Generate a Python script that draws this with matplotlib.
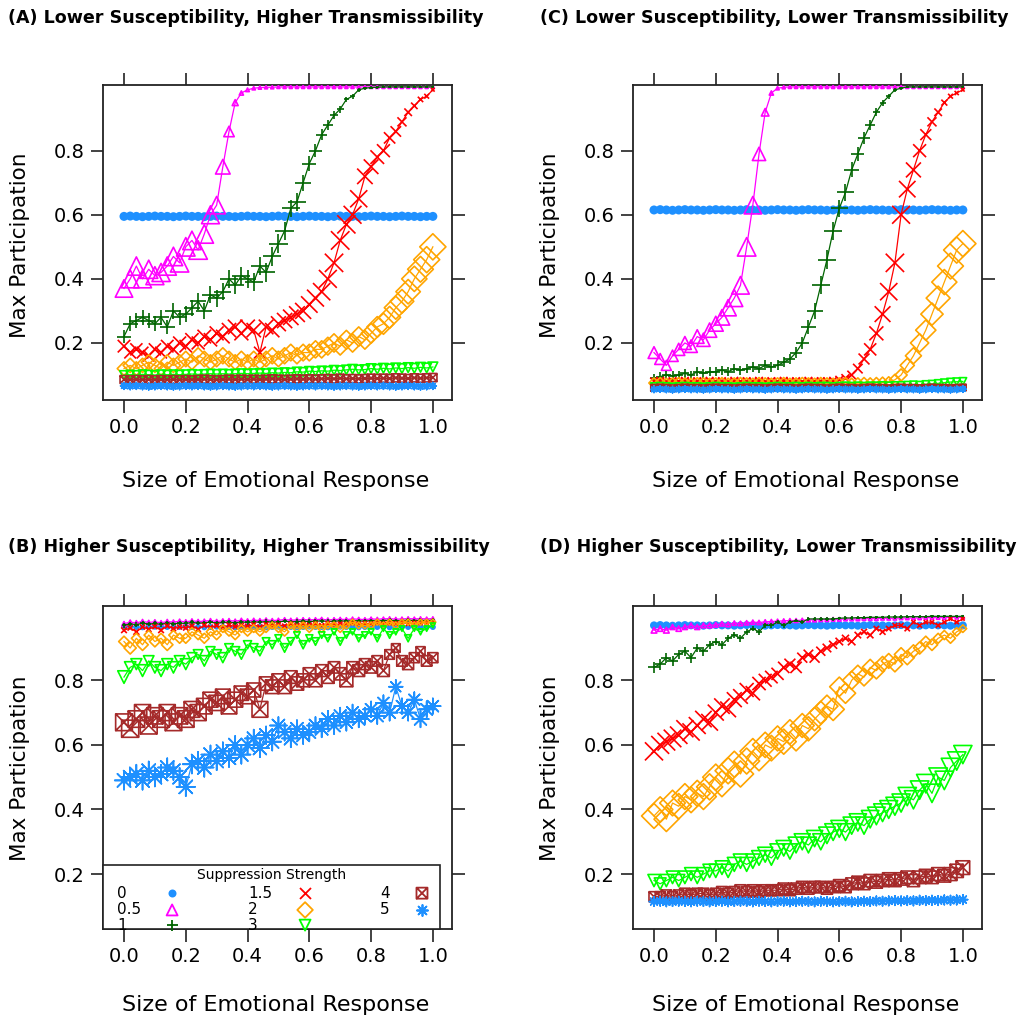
import numpy as np
import matplotlib
matplotlib.use('Agg')
import matplotlib.pyplot as plt
from matplotlib.path import Path
from matplotlib.patches import Rectangle

# ---------------- data ----------------
x = np.round(np.linspace(0, 1, 51), 2)
strengths = ['0', '0.5', '1', '1.5', '2', '3', '4', '5']
colors = ['#1E90FF', '#FF00FF', '#006400', '#FF0000', '#FFA500', '#00FF00', '#A52A2A', '#1E90FF']

# Panel A: Lower Susceptibility, Higher Transmissibility
A_s0 = [0.595, 0.596, 0.595, 0.594, 0.595, 0.596, 0.595, 0.595, 0.594, 0.595,
        0.596, 0.595, 0.595, 0.594, 0.595, 0.596, 0.595, 0.595, 0.594, 0.595,
        0.596, 0.595, 0.595, 0.594, 0.595, 0.596, 0.595, 0.595, 0.594, 0.595,
        0.596, 0.595, 0.595, 0.594, 0.595, 0.596, 0.595, 0.595, 0.594, 0.595,
        0.596, 0.595, 0.595, 0.594, 0.595, 0.596, 0.595, 0.595, 0.594, 0.595,
        0.595]
A_s05 = [0.37, 0.40, 0.44, 0.40, 0.43, 0.41, 0.42, 0.44, 0.47, 0.45,
         0.50, 0.52, 0.49, 0.54, 0.60, 0.63, 0.75, 0.86, 0.95, 0.98,
         0.99, 0.995, 0.997, 0.998, 0.998, 0.999, 0.999, 0.999, 0.999, 0.999,
         0.999, 0.999, 0.999, 0.999, 0.999, 0.999, 0.999, 0.999, 0.999, 0.999,
         0.999, 0.999, 0.999, 0.999, 0.999, 0.999, 0.999, 0.999, 0.999, 0.999,
         0.999]
A_s1 = [0.22, 0.26, 0.27, 0.28, 0.27, 0.26, 0.28, 0.25, 0.30, 0.28,
        0.29, 0.31, 0.33, 0.30, 0.35, 0.34, 0.36, 0.40, 0.38, 0.41,
        0.40, 0.39, 0.44, 0.42, 0.47, 0.51, 0.55, 0.62, 0.64, 0.70,
        0.76, 0.80, 0.85, 0.88, 0.91, 0.93, 0.96, 0.97, 0.99, 0.995,
        0.997, 0.998, 0.999, 0.999, 0.999, 0.999, 0.999, 0.999, 0.999, 0.999,
        0.999]
A_s15 = [0.19, 0.17, 0.18, 0.17, 0.16, 0.18, 0.17, 0.19, 0.18, 0.20,
         0.19, 0.21, 0.20, 0.22, 0.21, 0.23, 0.22, 0.24, 0.25, 0.23,
         0.25, 0.24, 0.17, 0.25, 0.24, 0.26, 0.27, 0.28, 0.29, 0.30,
         0.32, 0.34, 0.36, 0.40, 0.45, 0.52, 0.57, 0.60, 0.65, 0.72,
         0.75, 0.78, 0.80, 0.84, 0.86, 0.89, 0.92, 0.94, 0.96, 0.97,
         0.99]
A_s2 = [0.12, 0.13, 0.12, 0.13, 0.14, 0.13, 0.12, 0.14, 0.13, 0.14,
        0.15, 0.14, 0.16, 0.15, 0.14, 0.15, 0.16, 0.15, 0.14, 0.15,
        0.14, 0.15, 0.14, 0.15, 0.16, 0.15, 0.16, 0.17, 0.16, 0.17,
        0.17, 0.18, 0.18, 0.19, 0.20, 0.19, 0.21, 0.20, 0.22, 0.21,
        0.23, 0.25, 0.26, 0.28, 0.31, 0.33, 0.36, 0.40, 0.43, 0.46,
        0.50]
A_s3 = [0.100, 0.101, 0.100, 0.102, 0.101, 0.100, 0.102, 0.101, 0.102, 0.101,
        0.102, 0.103, 0.102, 0.103, 0.104, 0.103, 0.104, 0.103, 0.104, 0.105,
        0.104, 0.105, 0.106, 0.105, 0.107, 0.106, 0.108, 0.107, 0.110, 0.109,
        0.112, 0.111, 0.113, 0.112, 0.115, 0.114, 0.116, 0.118, 0.116, 0.117,
        0.120, 0.118, 0.121, 0.119, 0.122, 0.120, 0.123, 0.121, 0.124, 0.122,
        0.125]
A_s4 = [0.086, 0.085, 0.086, 0.085, 0.086, 0.085, 0.086, 0.085, 0.086, 0.085,
        0.086, 0.085, 0.086, 0.087, 0.086, 0.085, 0.086, 0.087, 0.086, 0.087,
        0.086, 0.087, 0.086, 0.087, 0.088, 0.087, 0.086, 0.087, 0.088, 0.087,
        0.088, 0.087, 0.088, 0.089, 0.088, 0.090, 0.088, 0.089, 0.088, 0.089,
        0.090, 0.089, 0.090, 0.089, 0.091, 0.090, 0.089, 0.091, 0.090, 0.091,
        0.092]
A_s5 = [0.066, 0.065, 0.066, 0.065, 0.064, 0.065, 0.066, 0.065, 0.064, 0.065,
        0.066, 0.065, 0.066, 0.065, 0.064, 0.065, 0.066, 0.065, 0.064, 0.065,
        0.066, 0.065, 0.066, 0.065, 0.064, 0.065, 0.066, 0.065, 0.064, 0.065,
        0.066, 0.065, 0.066, 0.065, 0.064, 0.065, 0.066, 0.065, 0.064, 0.065,
        0.066, 0.065, 0.066, 0.065, 0.064, 0.065, 0.066, 0.065, 0.064, 0.065,
        0.066]

# Panel B: Higher Susceptibility, Higher Transmissibility
B_s0 = [0.965, 0.966, 0.965, 0.964, 0.965, 0.966, 0.965, 0.965, 0.964, 0.965,
        0.966, 0.965, 0.965, 0.964, 0.965, 0.966, 0.965, 0.965, 0.964, 0.965,
        0.966, 0.965, 0.965, 0.964, 0.965, 0.966, 0.965, 0.965, 0.964, 0.965,
        0.966, 0.965, 0.965, 0.964, 0.965, 0.966, 0.965, 0.965, 0.964, 0.965,
        0.966, 0.965, 0.965, 0.964, 0.965, 0.966, 0.965, 0.965, 0.964, 0.965,
        0.965]
B_s05 = [0.975, 0.980, 0.978, 0.982, 0.979, 0.981, 0.978, 0.982, 0.980, 0.983,
         0.981, 0.984, 0.982, 0.983, 0.985, 0.982, 0.984, 0.985, 0.983, 0.986,
         0.984, 0.986, 0.985, 0.987, 0.985, 0.986, 0.988, 0.986, 0.987, 0.988,
         0.987, 0.988, 0.989, 0.987, 0.988, 0.989, 0.988, 0.990, 0.989, 0.988,
         0.990, 0.989, 0.990, 0.991, 0.989, 0.990, 0.991, 0.990, 0.991, 0.990,
         0.991]
B_s1 = [0.970, 0.975, 0.972, 0.977, 0.974, 0.976, 0.973, 0.978, 0.975, 0.977,
        0.976, 0.979, 0.977, 0.978, 0.980, 0.977, 0.979, 0.980, 0.978, 0.981,
        0.979, 0.981, 0.980, 0.982, 0.980, 0.981, 0.983, 0.981, 0.982, 0.983,
        0.982, 0.983, 0.984, 0.982, 0.983, 0.984, 0.983, 0.985, 0.984, 0.983,
        0.985, 0.984, 0.985, 0.986, 0.984, 0.985, 0.986, 0.985, 0.986, 0.985,
        0.986]
B_s15 = [0.955, 0.962, 0.950, 0.965, 0.958, 0.966, 0.955, 0.968, 0.960, 0.965,
         0.962, 0.968, 0.958, 0.970, 0.964, 0.969, 0.962, 0.971, 0.966, 0.970,
         0.967, 0.972, 0.965, 0.973, 0.969, 0.972, 0.968, 0.974, 0.970, 0.973,
         0.971, 0.975, 0.970, 0.976, 0.972, 0.975, 0.973, 0.977, 0.974, 0.976,
         0.975, 0.978, 0.974, 0.977, 0.976, 0.979, 0.975, 0.978, 0.977, 0.979,
         0.978]
B_s2 = [0.92, 0.90, 0.93, 0.91, 0.94, 0.92, 0.93, 0.91, 0.94, 0.93,
        0.93, 0.95, 0.94, 0.93, 0.95, 0.94, 0.96, 0.95, 0.94, 0.96,
        0.95, 0.96, 0.95, 0.96, 0.97, 0.96, 0.95, 0.97, 0.96, 0.97,
        0.96, 0.97, 0.96, 0.97, 0.97, 0.96, 0.97, 0.98, 0.97, 0.97,
        0.97, 0.98, 0.97, 0.98, 0.97, 0.98, 0.98, 0.97, 0.98, 0.98,
        0.98]
B_s3 = [0.81, 0.84, 0.85, 0.83, 0.86, 0.84, 0.83, 0.85, 0.84, 0.86,
        0.85, 0.87, 0.88, 0.86, 0.89, 0.88, 0.87, 0.90, 0.89, 0.88,
        0.91, 0.90, 0.89, 0.92, 0.91, 0.93, 0.90, 0.92, 0.94, 0.91,
        0.93, 0.92, 0.94, 0.93, 0.95, 0.92, 0.94, 0.95, 0.93, 0.94,
        0.95, 0.93, 0.96, 0.94, 0.95, 0.96, 0.93, 0.96, 0.95, 0.96,
        0.97]
B_s4 = [0.67, 0.65, 0.68, 0.70, 0.66, 0.69, 0.68, 0.70, 0.67, 0.69,
        0.68, 0.71, 0.70, 0.72, 0.74, 0.73, 0.75, 0.72, 0.74, 0.76,
        0.75, 0.77, 0.71, 0.79, 0.78, 0.80, 0.78, 0.81, 0.79, 0.80,
        0.82, 0.80, 0.83, 0.81, 0.84, 0.82, 0.80, 0.84, 0.83, 0.85,
        0.84, 0.86, 0.83, 0.88, 0.90, 0.86, 0.85, 0.87, 0.89, 0.86,
        0.87]
B_s5 = [0.49, 0.50, 0.51, 0.49, 0.52, 0.50, 0.51, 0.53, 0.52, 0.50,
        0.47, 0.54, 0.55, 0.53, 0.57, 0.55, 0.58, 0.56, 0.60, 0.57,
        0.60, 0.62, 0.59, 0.63, 0.61, 0.66, 0.64, 0.62, 0.65, 0.63,
        0.64, 0.66, 0.65, 0.68, 0.66, 0.69, 0.67, 0.70, 0.68, 0.69,
        0.71, 0.69, 0.73, 0.70, 0.78, 0.72, 0.70, 0.74, 0.68, 0.71,
        0.72]

# Panel C: Lower Susceptibility, Lower Transmissibility
C_s0 = [0.615, 0.616, 0.615, 0.614, 0.615, 0.616, 0.615, 0.615, 0.614, 0.615,
        0.616, 0.615, 0.615, 0.614, 0.615, 0.616, 0.615, 0.615, 0.614, 0.615,
        0.616, 0.615, 0.615, 0.614, 0.615, 0.616, 0.615, 0.615, 0.614, 0.615,
        0.616, 0.615, 0.615, 0.614, 0.615, 0.616, 0.615, 0.615, 0.614, 0.615,
        0.616, 0.615, 0.615, 0.614, 0.615, 0.616, 0.615, 0.615, 0.614, 0.615,
        0.615]
C_s05 = [0.17, 0.15, 0.13, 0.16, 0.18, 0.20, 0.19, 0.22, 0.21, 0.24,
         0.26, 0.28, 0.31, 0.34, 0.38, 0.50, 0.63, 0.79, 0.92, 0.98,
         0.995, 0.998, 0.999, 0.999, 0.999, 0.999, 0.999, 0.999, 0.999, 0.999,
         0.999, 0.999, 0.999, 0.999, 0.999, 0.999, 0.999, 0.999, 0.999, 0.999,
         0.999, 0.999, 0.999, 0.999, 0.999, 0.999, 0.999, 0.999, 0.999, 0.999,
         0.999]
C_s1 = [0.090, 0.095, 0.100, 0.098, 0.100, 0.105, 0.100, 0.110, 0.105, 0.110,
        0.110, 0.115, 0.110, 0.120, 0.115, 0.120, 0.125, 0.120, 0.130, 0.125,
        0.130, 0.140, 0.150, 0.170, 0.200, 0.250, 0.300, 0.380, 0.460, 0.550,
        0.620, 0.670, 0.740, 0.790, 0.840, 0.880, 0.920, 0.950, 0.970, 0.990,
        0.995, 0.999, 0.999, 0.999, 0.999, 0.999, 0.999, 0.999, 0.999, 0.999,
        0.999]
C_s15 = [0.080, 0.082, 0.079, 0.081, 0.080, 0.082, 0.079, 0.081, 0.080, 0.082,
         0.080, 0.081, 0.079, 0.082, 0.080, 0.081, 0.080, 0.082, 0.079, 0.081,
         0.080, 0.082, 0.080, 0.081, 0.079, 0.082, 0.080, 0.081, 0.080, 0.082,
         0.085, 0.090, 0.100, 0.120, 0.150, 0.180, 0.230, 0.290, 0.360, 0.450,
         0.600, 0.680, 0.740, 0.800, 0.850, 0.890, 0.920, 0.950, 0.970, 0.980,
         0.990]
C_s2 = [0.075, 0.076, 0.074, 0.075, 0.076, 0.075, 0.074, 0.076, 0.075, 0.074,
        0.075, 0.076, 0.074, 0.075, 0.076, 0.075, 0.074, 0.076, 0.075, 0.074,
        0.075, 0.076, 0.074, 0.075, 0.076, 0.075, 0.074, 0.076, 0.075, 0.074,
        0.075, 0.076, 0.074, 0.075, 0.076, 0.075, 0.076, 0.077, 0.078, 0.085,
        0.100, 0.130, 0.160, 0.200, 0.240, 0.290, 0.340, 0.390, 0.440, 0.490,
        0.510]
C_s3 = [0.065, 0.066, 0.065, 0.064, 0.065, 0.066, 0.065, 0.065, 0.064, 0.065,
        0.066, 0.065, 0.065, 0.064, 0.065, 0.066, 0.065, 0.065, 0.064, 0.065,
        0.066, 0.065, 0.065, 0.066, 0.065, 0.066, 0.065, 0.066, 0.066, 0.065,
        0.066, 0.067, 0.066, 0.067, 0.066, 0.067, 0.067, 0.068, 0.067, 0.068,
        0.068, 0.069, 0.070, 0.069, 0.071, 0.072, 0.074, 0.076, 0.078, 0.079,
        0.080]
C_s4 = [0.060, 0.061, 0.060, 0.059, 0.060, 0.061, 0.060, 0.060, 0.059, 0.060,
        0.061, 0.060, 0.060, 0.059, 0.060, 0.061, 0.060, 0.060, 0.059, 0.060,
        0.061, 0.060, 0.060, 0.059, 0.060, 0.061, 0.060, 0.060, 0.059, 0.060,
        0.061, 0.060, 0.060, 0.059, 0.060, 0.061, 0.060, 0.060, 0.059, 0.060,
        0.061, 0.060, 0.060, 0.059, 0.060, 0.061, 0.060, 0.060, 0.059, 0.060,
        0.061]
C_s5 = [0.055, 0.056, 0.055, 0.054, 0.055, 0.056, 0.055, 0.055, 0.054, 0.055,
        0.056, 0.055, 0.055, 0.054, 0.055, 0.056, 0.055, 0.055, 0.054, 0.055,
        0.056, 0.055, 0.055, 0.054, 0.055, 0.056, 0.055, 0.055, 0.054, 0.055,
        0.056, 0.055, 0.055, 0.054, 0.055, 0.056, 0.055, 0.055, 0.054, 0.055,
        0.056, 0.055, 0.055, 0.054, 0.055, 0.056, 0.055, 0.055, 0.054, 0.055,
        0.056]

# Panel D: Higher Susceptibility, Lower Transmissibility
D_s0 = [0.970, 0.971, 0.970, 0.969, 0.970, 0.971, 0.970, 0.970, 0.969, 0.970,
        0.971, 0.970, 0.970, 0.969, 0.970, 0.971, 0.970, 0.970, 0.969, 0.970,
        0.971, 0.970, 0.970, 0.969, 0.970, 0.971, 0.970, 0.970, 0.969, 0.970,
        0.971, 0.970, 0.970, 0.969, 0.970, 0.971, 0.970, 0.970, 0.969, 0.970,
        0.971, 0.970, 0.970, 0.969, 0.970, 0.971, 0.970, 0.970, 0.969, 0.970,
        0.970]
D_s05 = [0.955, 0.960, 0.955, 0.965, 0.960, 0.965, 0.970, 0.965, 0.970, 0.970,
         0.972, 0.975, 0.973, 0.977, 0.976, 0.978, 0.980, 0.979, 0.981, 0.982,
         0.983, 0.984, 0.985, 0.985, 0.986, 0.987, 0.987, 0.988, 0.988, 0.989,
         0.989, 0.990, 0.990, 0.990, 0.991, 0.991, 0.991, 0.992, 0.992, 0.992,
         0.993, 0.993, 0.993, 0.993, 0.994, 0.994, 0.994, 0.994, 0.995, 0.995,
         0.995]
D_s1 = [0.84, 0.85, 0.87, 0.86, 0.88, 0.89, 0.87, 0.90, 0.89, 0.91,
        0.92, 0.91, 0.93, 0.94, 0.93, 0.95, 0.96, 0.95, 0.97, 0.97,
        0.98, 0.97, 0.98, 0.985, 0.98, 0.99, 0.99, 0.99, 0.99, 0.99,
        0.992, 0.993, 0.993, 0.994, 0.994, 0.995, 0.995, 0.995, 0.996, 0.996,
        0.996, 0.997, 0.997, 0.997, 0.997, 0.998, 0.998, 0.998, 0.998, 0.998,
        0.998]
D_s15 = [0.58, 0.60, 0.61, 0.62, 0.63, 0.65, 0.64, 0.66, 0.68, 0.67,
         0.70, 0.72, 0.71, 0.74, 0.75, 0.77, 0.76, 0.79, 0.80, 0.81,
         0.82, 0.84, 0.85, 0.84, 0.87, 0.88, 0.87, 0.89, 0.90, 0.91,
         0.92, 0.93, 0.92, 0.94, 0.95, 0.94, 0.96, 0.95, 0.96, 0.97,
         0.97, 0.96, 0.98, 0.97, 0.98, 0.98, 0.97, 0.98, 0.99, 0.98,
         0.99]
D_s2 = [0.38, 0.40, 0.37, 0.42, 0.41, 0.44, 0.43, 0.45, 0.44, 0.47,
        0.50, 0.48, 0.52, 0.54, 0.51, 0.55, 0.58, 0.56, 0.60, 0.59,
        0.62, 0.61, 0.64, 0.62, 0.66, 0.65, 0.68, 0.70, 0.72, 0.71,
        0.78, 0.76, 0.80, 0.82, 0.81, 0.84, 0.83, 0.85, 0.86, 0.85,
        0.88, 0.87, 0.89, 0.90, 0.92, 0.91, 0.93, 0.94, 0.93, 0.95,
        0.96]
D_s3 = [0.18, 0.17, 0.18, 0.19, 0.18, 0.19, 0.20, 0.19, 0.20, 0.21,
        0.21, 0.22, 0.21, 0.23, 0.24, 0.23, 0.24, 0.25, 0.26, 0.25,
        0.27, 0.28, 0.27, 0.29, 0.30, 0.29, 0.31, 0.30, 0.32, 0.33,
        0.34, 0.33, 0.35, 0.36, 0.35, 0.37, 0.38, 0.39, 0.40, 0.41,
        0.42, 0.44, 0.43, 0.46, 0.48, 0.45, 0.50, 0.49, 0.53, 0.55,
        0.57]
D_s4 = [0.130, 0.130, 0.135, 0.130, 0.135, 0.140, 0.135, 0.140, 0.140, 0.135,
        0.140, 0.145, 0.140, 0.145, 0.150, 0.145, 0.150, 0.145, 0.150, 0.150,
        0.150, 0.155, 0.150, 0.155, 0.160, 0.155, 0.160, 0.160, 0.155, 0.160,
        0.165, 0.160, 0.170, 0.175, 0.170, 0.180, 0.175, 0.180, 0.185, 0.180,
        0.185, 0.190, 0.180, 0.190, 0.195, 0.190, 0.200, 0.195, 0.200, 0.210,
        0.220]
D_s5 = [0.115, 0.116, 0.114, 0.115, 0.116, 0.115, 0.114, 0.116, 0.115, 0.114,
        0.115, 0.116, 0.114, 0.115, 0.116, 0.115, 0.114, 0.116, 0.115, 0.114,
        0.115, 0.116, 0.114, 0.115, 0.116, 0.115, 0.114, 0.116, 0.115, 0.114,
        0.115, 0.116, 0.114, 0.115, 0.116, 0.115, 0.117, 0.116, 0.117, 0.118,
        0.117, 0.118, 0.117, 0.119, 0.118, 0.119, 0.118, 0.120, 0.119, 0.120,
        0.121]

titles = ['(A) Lower Susceptibility, Higher Transmissibility',
          '(B) Higher Susceptibility, Higher Transmissibility',
          '(C) Lower Susceptibility, Lower Transmissibility',
          '(D) Higher Susceptibility, Lower Transmissibility']
xticks = [0.0, 0.2, 0.4, 0.6, 0.8, 1.0]
yticks = [0.2, 0.4, 0.6, 0.8]
xlabel = 'Size of Emotional Response'
ylabel = 'Max Participation'

# ---------------- styling ----------------
W, H = 1017, 1027
fig = plt.figure(figsize=(W / 100, H / 100), dpi=100)
plt.rcParams['font.family'] = ['DejaVu Sans']

boxtimes = Path([(-1, -1), (1, -1), (1, 1), (-1, 1), (-1, -1), (1, 1), (-1, 1), (1, -1)],
                [Path.MOVETO, Path.LINETO, Path.LINETO, Path.LINETO, Path.LINETO,
                 Path.LINETO, Path.MOVETO, Path.LINETO])
# (marker, kind)
markers = [('o', 'solid'), ('^', 'open'), ('+', 'line'), ('x', 'line'),
           ('D', 'open'), ('v', 'open'), (boxtimes, 'open'), ((8, 2, 0), 'line')]


def px_rect(l, t, r, b):
    return [l / W, 1 - b / H, (r - l) / W, (b - t) / H]


panels = [
    dict(rect=px_rect(103, 85, 452, 400), ylim=(0.022, 1.005), title=titles[0],
         tpos=(8, 18), series=[A_s0, A_s05, A_s1, A_s15, A_s2, A_s3, A_s4, A_s5], s0px=9),
    dict(rect=px_rect(103, 606, 452, 929), ylim=(0.03, 1.03), title=titles[1],
         tpos=(8, 547), series=[B_s0, B_s05, B_s1, B_s15, B_s2, B_s3, B_s4, B_s5], s0px=6),
    dict(rect=px_rect(633, 85, 982, 400), ylim=(0.022, 1.005), title=titles[2],
         tpos=(540, 18), series=[C_s0, C_s05, C_s1, C_s15, C_s2, C_s3, C_s4, C_s5], s0px=9),
    dict(rect=px_rect(633, 606, 982, 929), ylim=(0.03, 1.03), title=titles[3],
         tpos=(540, 547), series=[D_s0, D_s05, D_s1, D_s15, D_s2, D_s3, D_s4, D_s5], s0px=8),
]

axes = []
for p in panels:
    ax = fig.add_axes(p['rect'])
    axes.append(ax)
    for k, (ys, col, (mk, kind)) in enumerate(zip(p['series'], colors, markers)):
        ys = np.asarray(ys, dtype=float)
        assert len(ys) == len(x), (p['title'], k, len(ys))
        ax.plot(x, ys, color=col, lw=0.9, zorder=2 + k)
        if kind == 'solid':
            dpx = np.full_like(ys, p['s0px'])
        else:
            dpx = 3.0 + 62.0 * ys * (1 - ys)
        s = (dpx * 0.72) ** 2
        if kind == 'solid':
            ax.scatter(x, ys, s=s, marker=mk, color=col, linewidths=0, zorder=2 + k)
        elif kind == 'open':
            ax.scatter(x, ys, s=s, marker=mk, facecolors='none', edgecolors=col,
                       linewidths=1.2, zorder=2 + k)
        else:
            ax.scatter(x, ys, s=s, marker=mk, color=col, linewidths=1.2, zorder=2 + k)

    ax.set_xlim(-0.068, 1.062)
    ax.set_ylim(*p['ylim'])
    ax.set_xticks(xticks)
    ax.set_xticklabels(['%.1f' % v for v in xticks])
    ax.set_yticks(yticks)
    ax.set_yticklabels(['%.1f' % v for v in yticks])
    ax.tick_params(direction='out', length=9, width=1.2, top=True, right=True,
                   labeltop=False, labelright=False, labelsize=14, pad=4, color='#222222')
    for sp in ax.spines.values():
        sp.set_linewidth(1.3)
        sp.set_color('#222222')

    tx, ty = p['tpos']
    fig.text(tx / W, 1 - ty / H, p['title'], fontsize=12.6, fontweight='bold',
             ha='left', va='center')

# axis labels
for lx, cy in [(20, 245), (20, 768), (550, 245), (550, 768)]:
    fig.text(lx / W, 1 - cy / H, ylabel, rotation=90, ha='center', va='center', fontsize=15.5)
for cx, cy in [(276, 481), (276, 1005), (806, 481), (806, 1005)]:
    fig.text(cx / W, 1 - cy / H, xlabel, ha='center', va='center', fontsize=16)

# legend in panel B (key box in axes coordinates)
axB = axes[1]
axB.add_patch(Rectangle((0, 0), 0.966, 0.198, transform=axB.transAxes, facecolor='white',
                        edgecolor='#222222', lw=1.2, zorder=20, clip_on=False))
axB.text(0.483, 0.167, 'Suppression Strength', transform=axB.transAxes, ha='center',
         va='center', fontsize=10, zorder=21)
lab_x = [0.040, 0.415, 0.794]
mk_x = [0.198, 0.579, 0.914]
row_y = [0.111, 0.059, 0.012]
for k, (lab, col, (mk, kind)) in enumerate(zip(strengths, colors, markers)):
    c, r = divmod(k, 3)
    axB.text(lab_x[c], row_y[r], lab, transform=axB.transAxes, ha='left', va='center',
             fontsize=11, zorder=21)
    s = (11 * 0.72) ** 2
    if kind == 'solid':
        axB.scatter([mk_x[c]], [row_y[r]], s=(8 * 0.72) ** 2, marker=mk, color=col,
                    transform=axB.transAxes, zorder=22, clip_on=False, linewidths=0)
    elif kind == 'open':
        axB.scatter([mk_x[c]], [row_y[r]], s=s, marker=mk, facecolors='none', edgecolors=col,
                    linewidths=1.3, transform=axB.transAxes, zorder=22, clip_on=False)
    else:
        axB.scatter([mk_x[c]], [row_y[r]], s=s, marker=mk, color=col, linewidths=1.3,
                    transform=axB.transAxes, zorder=22, clip_on=False)

fig.savefig('out.png', dpi=100, facecolor='white')
